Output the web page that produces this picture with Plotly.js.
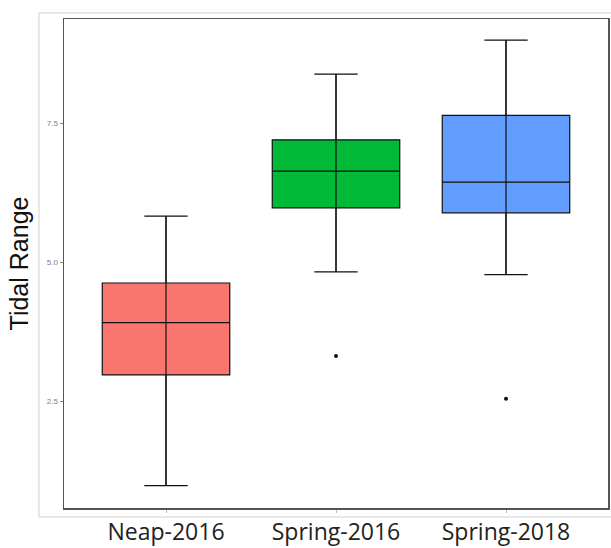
<!DOCTYPE html>
<html>
<head>
<meta charset="utf-8">
<script src="https://cdn.plot.ly/plotly-3.0.1.min.js"></script>
<style>html,body{margin:0;padding:0;background:#fff;}#chart{width:611px;height:548px;}</style>
</head>
<body>
<div id="chart"></div>
<script>
const categories = ['Neap-2016', 'Spring-2016', 'Spring-2018'];
const lowerWhisker = [0.99, 4.83, 4.78];
const q1 = [2.98, 5.98, 5.89];
const medians = [3.92, 6.64, 6.44];
const q3 = [4.63, 7.20, 7.64];
const upperWhisker = [5.83, 8.38, 8.99];
const outlierCats = ['Spring-2016', 'Spring-2018'];
const outlierValues = [3.32, 2.55];
const yTickVals = [2.5, 5.0, 7.5];
const yTickText = ['2.5', '5.0', '7.5'];
const fillColors = ['#F8766D', '#00BA38', '#619CFF'];

const traces = categories.map((c, i) => ({
  type: 'box',
  x: [c],
  q1: [q1[i]],
  median: [medians[i]],
  q3: [q3[i]],
  lowerfence: [lowerWhisker[i]],
  upperfence: [upperWhisker[i]],
  fillcolor: fillColors[i],
  line: {color: '#111', width: 1.2},
  width: 0.75,
  whiskerwidth: 0.34,
  boxpoints: false,
  hoverinfo: 'skip',
  showlegend: false
}));

const wx = [], wy = [];
categories.forEach((c, i) => { wx.push(c, c, null); wy.push(lowerWhisker[i], upperWhisker[i], null); });
traces.push({
  type: 'scatter', mode: 'lines', x: wx, y: wy,
  line: {color: '#111', width: 1.2}, hoverinfo: 'skip', showlegend: false
});
traces.push({
  type: 'scatter', mode: 'markers', x: outlierCats, y: outlierValues,
  marker: {color: '#111', size: 4}, hoverinfo: 'skip', showlegend: false
});

const layout = {
  width: 611, height: 548,
  margin: {l: 64, r: 3, t: 19, b: 40},
  paper_bgcolor: '#fff', plot_bgcolor: '#fff',
  boxmode: 'overlay',
  xaxis: {
    type: 'category', categoryarray: categories, range: [-0.6, 2.6],
    showgrid: false, zeroline: false,
    showline: true, mirror: true, linecolor: '#555', linewidth: 1.5,
    ticks: 'outside', ticklen: 3, tickcolor: '#bbb',
    ticklabelstandoff: 0,
    tickfont: {family: 'Open Sans, sans-serif', size: 23, color: '#222'}
  },
  yaxis: {
    range: [0.59, 9.37],
    tickvals: yTickVals, ticktext: yTickText,
    showgrid: false, zeroline: false,
    showline: true, mirror: true, linecolor: '#555', linewidth: 1.5,
    ticks: 'outside', ticklen: 3, tickcolor: '#888',
    tickfont: {family: 'Liberation Sans, Arial, sans-serif', size: 8, color: '#808080'},
    title: {text: 'Tidal Range', font: {family: 'Liberation Sans, Arial, sans-serif', size: 25, color: '#111'}, standoff: 11}
  },
  shapes: [{
    type: 'rect', xref: 'paper', yref: 'paper',
    x0: -0.046, x1: 1.01, y0: -0.0184, y1: 1.0123,
    line: {color: '#d0d0d0', width: 1}, fillcolor: 'rgba(0,0,0,0)', layer: 'below'
  }]
};

Plotly.newPlot('chart', traces, layout, {displayModeBar: false, staticPlot: true});
</script>
</body>
</html>
